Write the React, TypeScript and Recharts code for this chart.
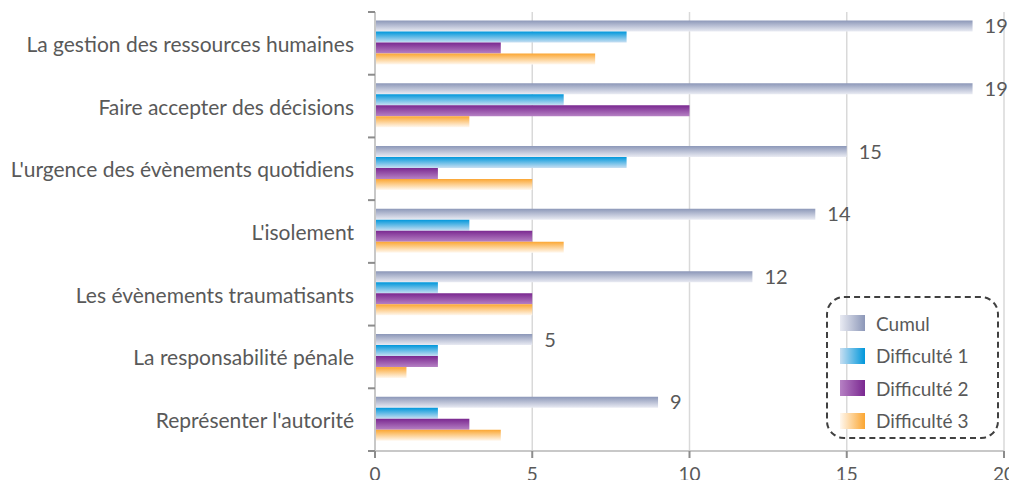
import {
  BarChart,
  Bar,
  XAxis,
  YAxis,
  CartesianGrid,
  Legend,
  LabelList,
} from "recharts";

const categories = [
  "La gestion des ressources humaines",
  "Faire accepter des décisions",
  "L'urgence des évènements quotidiens",
  "L'isolement",
  "Les évènements traumatisants",
  "La responsabilité pénale",
  "Représenter l'autorité",
];
const cumul = [19, 19, 15, 14, 12, 5, 9];
const difficulte1 = [8, 6, 8, 3, 2, 2, 2];
const difficulte2 = [4, 10, 2, 5, 5, 2, 3];
const difficulte3 = [7, 3, 5, 6, 5, 1, 4];
const xTicks = [0, 5, 10, 15, 20];

const data = categories.map((name, i) => ({
  name,
  cumul: cumul[i],
  d1: difficulte1[i],
  d2: difficulte2[i],
  d3: difficulte3[i],
}));

const series = [
  { key: "cumul", label: "Cumul", dark: "#8c97b8", light: "#e9ebf3" },
  { key: "d1", label: "Difficulté 1", dark: "#0097db", light: "#c8dff2" },
  { key: "d2", label: "Difficulté 2", dark: "#7a2890", light: "#b681c4" },
  { key: "d3", label: "Difficulté 3", dark: "#fba631", light: "#fff8ef" },
];

const W = 1017;
const H = 488;
const TOP = 12;
const X_AXIS_H = 37;
const AXIS_X = 375;
const PLOT_H = H - TOP - X_AXIS_H;
const FONT = "Lato, 'Open Sans', sans-serif";
const TEXT = "#595959";

const CategoryTick = (props: any) => {
  const { x, y, payload, index } = props;
  const band = PLOT_H / categories.length;
  const last = index === categories.length - 1;
  return (
    <g>
      <line
        x1={AXIS_X - 7}
        x2={AXIS_X}
        y1={y - band / 2}
        y2={y - band / 2}
        stroke="#8c8c8c"
        strokeWidth={2}
      />
      {last && (
        <line
          x1={AXIS_X - 7}
          x2={AXIS_X}
          y1={y + band / 2}
          y2={y + band / 2}
          stroke="#8c8c8c"
          strokeWidth={2}
        />
      )}
      <text
        x={x}
        y={y}
        textAnchor="end"
        dominantBaseline="central"
        fill={TEXT}
        fontSize={21}
        fontFamily={FONT}
      >
        {payload.value}
      </text>
    </g>
  );
};

const LegendBox = () => (
  <div
    style={{
      boxSizing: "border-box",
      width: "100%",
      height: "100%",
      border: "2px dashed #404040",
      borderRadius: 18,
      padding: "9px 0 0 12px",
      fontFamily: FONT,
      fontSize: 19,
      color: TEXT,
    }}
  >
    {series.map((s) => (
      <div
        key={s.key}
        style={{ display: "flex", alignItems: "center", height: 32.5 }}
      >
        <span
          style={{
            display: "inline-block",
            width: 25,
            height: 16,
            marginRight: 11,
            background: `linear-gradient(to right, ${s.light}, ${s.dark})`,
          }}
        />
        <span>{s.label}</span>
      </div>
    ))}
  </div>
);

export default function App() {
  return (
    <div style={{ margin: -8, width: W, height: H, background: "#fff" }}>
      <BarChart
        width={W}
        height={H}
        data={data}
        layout="vertical"
        margin={{ top: TOP, right: 13, bottom: 0, left: 0 }}
        barCategoryGap={8.5}
        barGap={0}
      >
        <defs>
          {series.map((s) => (
            <linearGradient
              key={s.key}
              id={`grad-${s.key}`}
              x1="0"
              y1="0"
              x2="0"
              y2="1"
            >
              <stop offset="0%" stopColor={s.dark} />
              <stop offset="100%" stopColor={s.light} />
            </linearGradient>
          ))}
        </defs>
        <CartesianGrid horizontal={false} stroke="#d9d9d9" strokeWidth={1.5} />
        <XAxis
          type="number"
          domain={[0, 20]}
          ticks={xTicks}
          height={X_AXIS_H}
          axisLine={{ stroke: "#c8c8c8", strokeWidth: 2 }}
          tickLine={{ stroke: "#8c8c8c", strokeWidth: 2 }}
          tickSize={7}
          tickMargin={10}
          tick={{ fill: TEXT, fontSize: 19, fontFamily: FONT }}
        />
        <YAxis
          type="category"
          dataKey="name"
          width={AXIS_X}
          axisLine={{ stroke: "#c8c8c8", strokeWidth: 2 }}
          tickLine={false}
          tickSize={0}
          tickMargin={21}
          interval={0}
          tick={<CategoryTick />}
        />
        <Legend
          layout="vertical"
          align="center"
          verticalAlign="middle"
          content={<LegendBox />}
          wrapperStyle={{ left: 826, top: 296, width: 173, height: 143 }}
        />
        {series.map((s) => (
          <Bar
            key={s.key}
            dataKey={s.key}
            name={s.label}
            fill={`url(#grad-${s.key})`}
            isAnimationActive={false}
          >
            {s.key === "cumul" && (
              <LabelList
                dataKey="cumul"
                position="right"
                offset={12}
                fill={TEXT}
                fontSize={20}
                fontFamily={FONT}
              />
            )}
          </Bar>
        ))}
      </BarChart>
    </div>
  );
}
